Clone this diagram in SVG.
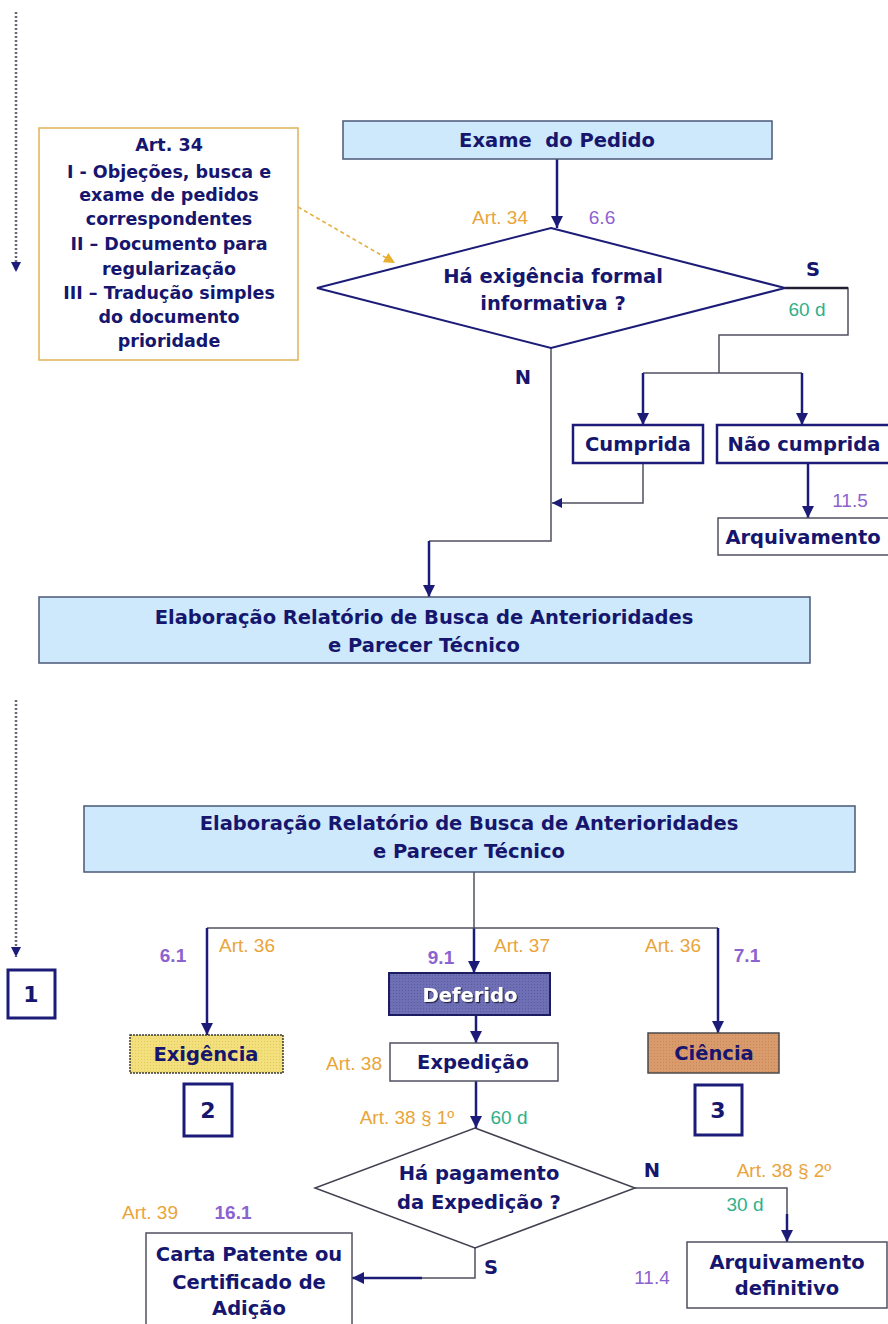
<svg xmlns="http://www.w3.org/2000/svg" width="888" height="1324" viewBox="0 0 888 1324">
<defs>
<style>
.bt{font-family:"DejaVu Sans",Verdana,sans-serif;font-weight:bold;font-size:19.5px;fill:#16166e;text-anchor:middle}
.nt{font-family:"DejaVu Sans",Verdana,sans-serif;font-weight:bold;font-size:17.5px;fill:#16166e;text-anchor:middle}
.or{font-family:"Liberation Sans",Arial,sans-serif;font-size:19px;fill:#e9a43a;text-anchor:middle}
.pu{font-family:"Liberation Sans",Arial,sans-serif;font-weight:bold;font-size:19px;fill:#8c62d0;text-anchor:middle}
.pn{font-family:"Liberation Sans",Arial,sans-serif;font-size:19px;fill:#8c62d0;text-anchor:middle}
.te{font-family:"Liberation Sans",Arial,sans-serif;font-size:19px;fill:#2fb08a;text-anchor:middle}
.blue{fill:#cde9fb;stroke:#4a5878;stroke-width:1.5}
.wb{fill:#fff;stroke:#1c1c78;stroke-width:2.5}
.wg{fill:#fff;stroke:#505060;stroke-width:1.5}
.num{fill:#fff;stroke:#1c1c78;stroke-width:3}
.dia{fill:#fff;stroke:#1c1c78;stroke-width:2}
.dia2{fill:#fff;stroke:#404050;stroke-width:1.5}
.ln{fill:none;stroke:#1c1c78;stroke-width:2.5}
.lg{fill:none;stroke:#505060;stroke-width:1.5}
.dot{fill:none;stroke:#667;stroke-width:2.5;stroke-dasharray:2 2}
</style>
<marker id="ah" viewBox="0 0 10 10" refX="10" refY="5" markerWidth="12" markerHeight="12" markerUnits="userSpaceOnUse" orient="auto"><path d="M0,0 L10,5 L0,10 z" fill="#1c1c78"/></marker>
<marker id="ahs" viewBox="0 0 10 10" refX="10" refY="5" markerWidth="10" markerHeight="10" markerUnits="userSpaceOnUse" orient="auto"><path d="M0,0 L10,5 L0,10 z" fill="#1c1c78"/></marker>
<marker id="aho" viewBox="0 0 10 10" refX="10" refY="5" markerWidth="11" markerHeight="11" markerUnits="userSpaceOnUse" orient="auto"><path d="M0,0 L10,5 L0,10 z" fill="#e8b030"/></marker>
<pattern id="hatchD" width="3" height="3" patternUnits="userSpaceOnUse"><rect width="3" height="3" fill="#6f6fb6"/><rect width="1" height="1" fill="#5a5aa0"/></pattern>
<pattern id="hatchY" width="3" height="3" patternUnits="userSpaceOnUse"><rect width="3" height="3" fill="#f3e07c"/><rect width="1" height="1" fill="#e2cc60"/></pattern>
<pattern id="hatchC" width="3" height="3" patternUnits="userSpaceOnUse"><rect width="3" height="3" fill="#d99a6c"/><rect width="1" height="1" fill="#c8885a"/></pattern>
<filter id="sh" x="-10%" y="-20%" width="130%" height="150%"><feDropShadow dx="1.2" dy="1.2" stdDeviation="0.6" flood-color="#20204a"/></filter>
</defs>
<rect width="888" height="1324" fill="#fff"/>

<g id="connectors">
<line class="dot" x1="16" y1="12" x2="16" y2="272" marker-end="url(#ahs)"/>
<line x1="298" y1="207" x2="395" y2="263" stroke="#e8b040" stroke-width="1.5" stroke-dasharray="4 3" marker-end="url(#aho)"/>
<line class="ln" x1="557" y1="159" x2="557" y2="228" marker-end="url(#ah)"/>
<polyline class="lg" points="785,288 848,288 848,335 719,335 719,373"/>
<line x1="785" y1="288" x2="848" y2="288" stroke="#202030" stroke-width="2.5"/>
<line class="lg" x1="643" y1="373" x2="802" y2="373"/>
<line class="ln" x1="643" y1="373" x2="643" y2="425" marker-end="url(#ah)"/>
<line class="ln" x1="802" y1="373" x2="802" y2="425" marker-end="url(#ah)"/>
<polyline class="lg" points="551,348 551,541 429,541"/>
<line class="ln" x1="429" y1="541" x2="429" y2="597" marker-end="url(#ah)"/>
<polyline class="lg" points="643,463 643,503 552,503" marker-end="url(#ahs)"/>
<line class="ln" x1="808" y1="463" x2="808" y2="518" marker-end="url(#ah)"/>
<line class="dot" x1="16" y1="700" x2="16" y2="957" marker-end="url(#ahs)"/>
<line class="lg" x1="474" y1="872" x2="474" y2="928"/>
<line class="ln" x1="474" y1="928" x2="474" y2="973" marker-end="url(#ah)"/>
<line class="lg" x1="207" y1="928" x2="718" y2="928"/>
<line class="ln" x1="207" y1="928" x2="207" y2="1035" marker-end="url(#ah)"/>
<line class="ln" x1="718" y1="928" x2="718" y2="1033" marker-end="url(#ah)"/>
<line class="ln" x1="476" y1="1015" x2="476" y2="1043" marker-end="url(#ah)"/>
<line class="ln" x1="476" y1="1081" x2="476" y2="1128" marker-end="url(#ah)"/>
<polyline class="lg" points="635,1188 787,1188 787,1215"/>
<line class="ln" x1="787" y1="1214" x2="787" y2="1242" marker-end="url(#ah)"/>
<polyline class="lg" points="475,1248 475,1278 420,1278"/>
<line class="ln" x1="422" y1="1278" x2="352" y2="1278" marker-end="url(#ah)"/>
</g>

<g id="note-art34">
<rect x="39" y="128" width="259" height="232" fill="#fff" stroke="#e0b258" stroke-width="1.5"/>
<text class="nt" x="169" y="151">Art. 34</text>
<text class="nt" x="169" y="178">I - Objeções, busca e</text>
<text class="nt" x="169" y="201">exame de pedidos</text>
<text class="nt" x="169" y="225">correspondentes</text>
<text class="nt" x="169" y="250">II – Documento para</text>
<text class="nt" x="169" y="275">regularização</text>
<text class="nt" x="169" y="299">III – Tradução simples</text>
<text class="nt" x="169" y="323">do documento</text>
<text class="nt" x="169" y="347">prioridade</text>
</g>

<g id="exame">
<rect class="blue" x="343" y="121" width="429" height="38"/>
<text class="bt" x="557" y="147" style="white-space:pre">Exame  do Pedido</text>
</g>

<g id="decision1">
<polygon class="dia" points="551,228 785,288 551,348 317,288"/>
<text class="bt" x="553" y="283">Há exigência formal</text>
<text class="bt" x="553" y="310">informativa ?</text>
</g>

<g id="cumprida">
<rect class="wb" x="573" y="425" width="130" height="38"/>
<text class="bt" x="638" y="451">Cumprida</text>
</g>
<g id="nao-cumprida">
<rect class="wb" x="717" y="425" width="175" height="38"/>
<text class="bt" x="804" y="451">Não cumprida</text>
</g>
<g id="arquivamento">
<rect class="wg" x="718" y="518" width="174" height="37"/>
<text class="bt" x="803" y="544">Arquivamento</text>
</g>

<g id="elaboracao1">
<rect class="blue" x="39" y="597" width="771" height="66"/>
<text class="bt" x="424" y="624">Elaboração Relatório de Busca de Anterioridades</text>
<text class="bt" x="424" y="652">e Parecer Técnico</text>
</g>

<g id="elaboracao2">
<rect class="blue" x="84" y="806" width="771" height="66"/>
<text class="bt" x="469" y="830">Elaboração Relatório de Busca de Anterioridades</text>
<text class="bt" x="469" y="858">e Parecer Técnico</text>
</g>

<g id="ref1">
<rect class="num" x="8" y="970" width="47" height="48"/>
<text class="bt" x="31" y="1002" style="font-size:22px">1</text>
</g>

<g id="deferido">
<rect x="389" y="973" width="161" height="42" fill="url(#hatchD)" stroke="#1c1c60" stroke-width="2"/>
<text class="bt" x="470" y="1002" style="fill:#fff" filter="url(#sh)">Deferido</text>
</g>

<g id="exigencia">
<rect x="130" y="1035" width="153" height="38" fill="url(#hatchY)" stroke="#3a3a3a" stroke-width="1.5" stroke-dasharray="2 1"/>
<text class="bt" x="206" y="1061">Exigência</text>
</g>
<g id="ref2">
<rect class="num" x="184" y="1084" width="48" height="52"/>
<text class="bt" x="208" y="1118" style="font-size:22px">2</text>
</g>

<g id="expedicao">
<rect class="wg" x="390" y="1043" width="168" height="38"/>
<text class="bt" x="473" y="1069">Expedição</text>
</g>

<g id="ciencia">
<rect x="648" y="1033" width="131" height="40" fill="url(#hatchC)" stroke="#4a4a4a" stroke-width="1.5"/>
<text class="bt" x="714" y="1060">Ciência</text>
</g>
<g id="ref3">
<rect class="num" x="695" y="1085" width="47" height="50"/>
<text class="bt" x="718" y="1118" style="font-size:22px">3</text>
</g>

<g id="decision2">
<polygon class="dia2" points="475,1128 635,1188 475,1248 315,1188"/>
<text class="bt" x="479" y="1180">Há pagamento</text>
<text class="bt" x="479" y="1209">da Expedição ?</text>
</g>

<g id="carta">
<rect class="wg" x="146" y="1233" width="206" height="100"/>
<text class="bt" x="249" y="1261">Carta Patente ou</text>
<text class="bt" x="249" y="1289">Certificado de</text>
<text class="bt" x="249" y="1315">Adição</text>
</g>

<g id="arquivamento-definitivo">
<rect class="wg" x="687" y="1242" width="200" height="66"/>
<text class="bt" x="787" y="1269">Arquivamento</text>
<text class="bt" x="787" y="1295">definitivo</text>
</g>

<g id="labels">
<text class="or" x="500" y="224">Art. 34</text>
<text class="pn" x="602" y="224">6.6</text>
<text class="bt" x="813" y="276">S</text>
<text class="te" x="807" y="316">60 d</text>
<text class="bt" x="523" y="384">N</text>
<text class="pn" x="850" y="507">11.5</text>
<text class="pu" x="173" y="962">6.1</text>
<text class="or" x="247" y="952">Art. 36</text>
<text class="pu" x="441" y="964">9.1</text>
<text class="or" x="522" y="952">Art. 37</text>
<text class="or" x="673" y="952">Art. 36</text>
<text class="pu" x="747" y="962">7.1</text>
<text class="or" x="354" y="1070">Art. 38</text>
<text class="or" x="407" y="1124">Art. 38 § 1º</text>
<text class="te" x="509" y="1124">60 d</text>
<text class="bt" x="652" y="1177">N</text>
<text class="or" x="784" y="1177">Art. 38 § 2º</text>
<text class="te" x="745" y="1211">30 d</text>
<text class="bt" x="491" y="1274">S</text>
<text class="pn" x="652" y="1284">11.4</text>
<text class="or" x="150" y="1219">Art. 39</text>
<text class="pu" x="233" y="1219">16.1</text>
</g>
</svg>
